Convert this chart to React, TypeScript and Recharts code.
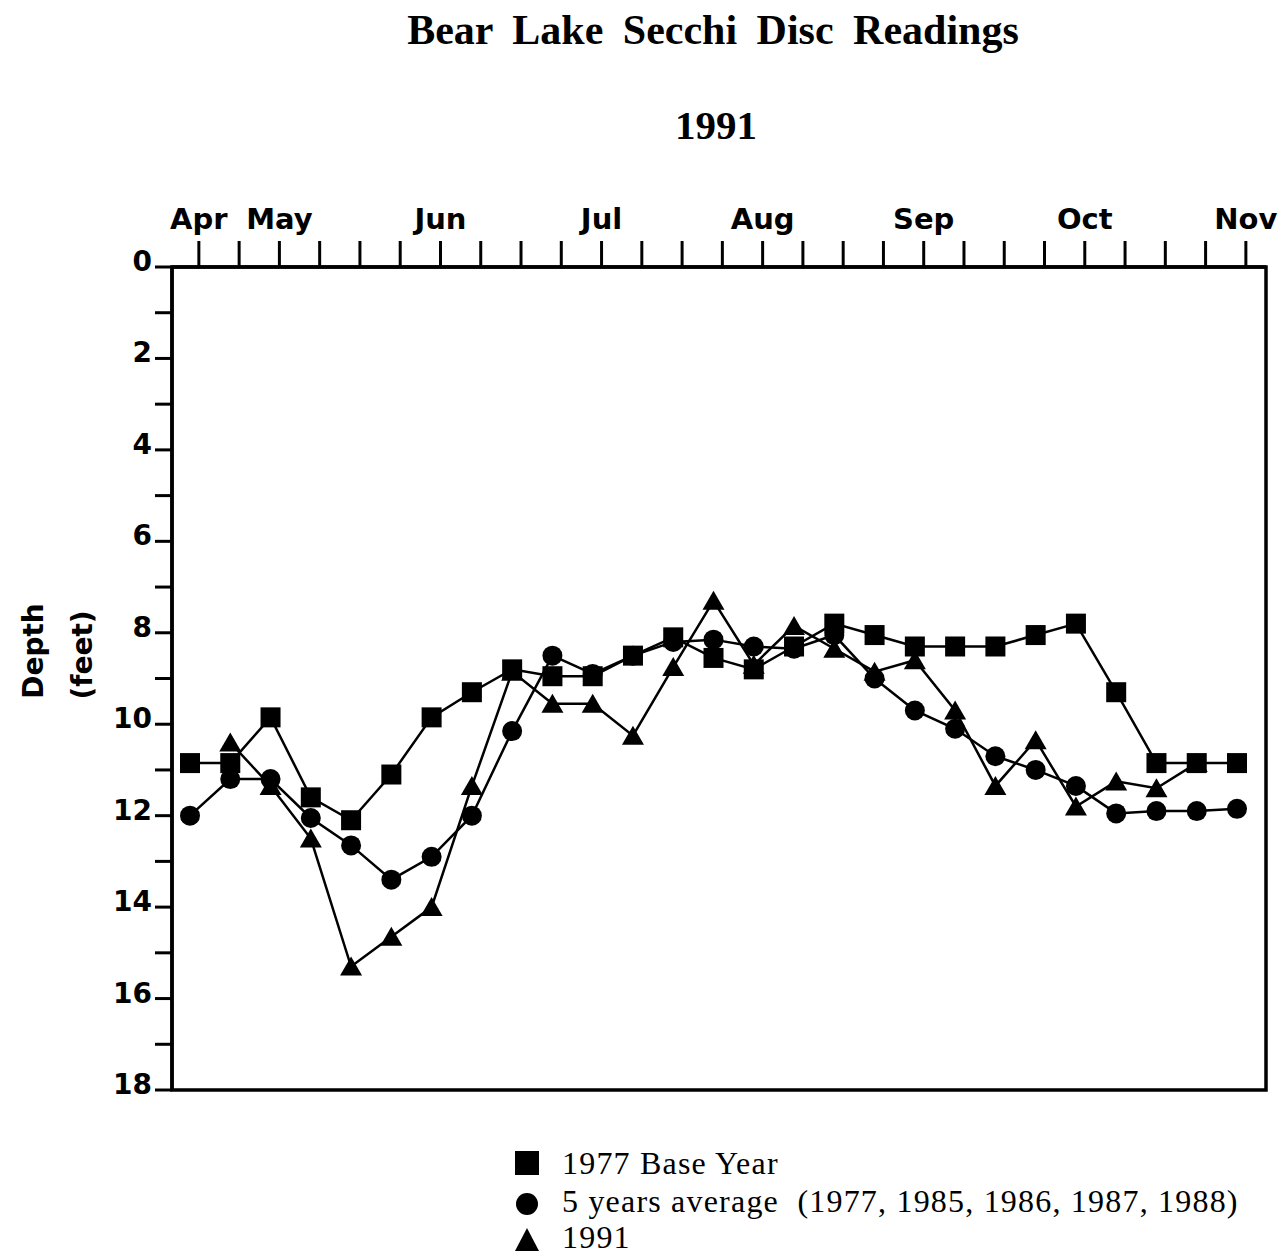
import React from 'react';
import { LineChart, Line, XAxis, YAxis, Legend, ReferenceArea } from 'recharts';

// week index (27 weekly readings, April to November)
const weeks = [0, 1, 2, 3, 4, 5, 6, 7, 8, 9, 10, 11, 12, 13, 14, 15, 16, 17, 18, 19, 20, 21, 22, 23, 24, 25, 26];

// depth in feet
const base1977 = [10.85, 10.85, 9.85, 11.6, 12.1, 11.1, 9.85, 9.3, 8.8, 8.95, 8.95, 8.5, 8.1, 8.55, 8.8, 8.3, 7.8, 8.05, 8.3, 8.3, 8.3, 8.05, 7.8, 9.3, 10.85, 10.85, 10.85];
const avg5 = [12.0, 11.2, 11.2, 12.05, 12.65, 13.4, 12.9, 12.0, 10.15, 8.5, 8.9, 8.5, 8.2, 8.15, 8.3, 8.35, 8.05, 9.0, 9.7, 10.1, 10.7, 11.0, 11.35, 11.95, 11.9, 11.9, 11.85];
const y1991: (number | null)[] = [null, 10.4, 11.35, 12.5, 15.3, 14.65, 14.0, 11.35, 8.85, 9.55, 9.55, 10.25, 8.75, 7.3, 8.7, 7.85, 8.35, 8.85, 8.6, 9.7, 11.35, 10.35, 11.8, 11.25, 11.4, 10.85, null];

const monthLabels = ['Apr', 'May', 'Jun', 'Jul', 'Aug', 'Sep', 'Oct', 'Nov'];
const monthTickWeeks = [0, 2, 6, 10, 14, 18, 22, 26];
const depthTicks = [0, 1, 2, 3, 4, 5, 6, 7, 8, 9, 10, 11, 12, 13, 14, 15, 16, 17, 18];

const legendLabels = ['1977 Base Year', '5 years average  (1977, 1985, 1986, 1987, 1988)', '1991'];

const TICK_SHIFT = 0.22;
const X_DOMAIN: [number, number] = [-0.447, 26.72];
const Y_DOMAIN: [number, number] = [0, 18];
const data = weeks.map((w, i) => ({ x: w, base: base1977[i], avg: avg5[i], y91: y1991[i] }));
const weekTicks = weeks.map((w) => w + TICK_SHIFT);

const SANS = '"DejaVu Sans", Verdana, sans-serif';
const SERIF = '"Liberation Serif", "Times New Roman", serif';

const SquareDot = (p: any) => {
  if (p.cx == null || p.cy == null || p.value == null) return <g key={p.key} />;
  return <rect key={p.key} x={p.cx - 10} y={p.cy - 10} width={20} height={20} fill="#000" />;
};
const CircleDot = (p: any) => {
  if (p.cx == null || p.cy == null || p.value == null) return <g key={p.key} />;
  return <circle key={p.key} cx={p.cx} cy={p.cy} r={10} fill="#000" />;
};
const TriangleDot = (p: any) => {
  if (p.cx == null || p.cy == null || p.value == null) return <g key={p.key} />;
  const { cx, cy } = p;
  return <path key={p.key} d={`M${cx},${cy - 10} L${cx + 11},${cy + 9} L${cx - 11},${cy + 9} Z`} fill="#000" />;
};

const MonthTick = (p: any) => {
  const wk = Math.round(p.payload.value - TICK_SHIFT);
  const k = monthTickWeeks.indexOf(wk);
  if (k < 0) return <g />;
  return (
    <text x={p.x} y={p.y - 12} textAnchor="middle" fontFamily={SANS} fontWeight="bold" fontSize={29} fill="#000">
      {monthLabels[k]}
    </text>
  );
};

const DepthTick = (p: any) => {
  const v = p.payload.value;
  if (v % 2 !== 0) return <g />;
  return (
    <text x={p.x - 3} y={p.y + 4} textAnchor="end" fontFamily={SANS} fontWeight="bold" fontSize={28} fill="#000">
      {v}
    </text>
  );
};

const legendText = { fontFamily: SERIF, fontSize: 32, letterSpacing: 1.2, fill: '#000' } as const;

const LegendBox = () => (
  <svg width={760} height={115} style={{ display: 'block' }}>
    <rect x={15} y={11} width={24} height={24} fill="#000" />
    <circle cx={27} cy={64} r={11} fill="#000" />
    <path d="M27,88 L39,111 L15,111 Z" fill="#000" />
    <text x={62} y={34} {...legendText}>{legendLabels[0]}</text>
    <text x={62} y={72} {...legendText} style={{ whiteSpace: 'pre' }}>{legendLabels[1]}</text>
    <text x={62} y={108} {...legendText}>{legendLabels[2]}</text>
  </svg>
);

export default function App() {
  return (
    <div style={{ position: 'absolute', left: 0, top: 0, width: 1285, height: 1255, background: '#fff' }}>
      <svg width={1285} height={1255} style={{ position: 'absolute', left: 0, top: 0, pointerEvents: 'none' }}>
        <text x={713} y={44} textAnchor="middle" fontFamily={SERIF} fontWeight="bold" fontSize={42} wordSpacing={9} fill="#000">
          Bear Lake Secchi Disc Readings
        </text>
        <text x={716} y={139} textAnchor="middle" fontFamily={SERIF} fontWeight="bold" fontSize={41} fill="#000">
          1991
        </text>
        <text transform="translate(43,651) rotate(-90)" textAnchor="middle" fontFamily={SANS} fontWeight="bold" fontSize={28} fill="#000">
          Depth
        </text>
        <text transform="translate(92,655) rotate(-90)" textAnchor="middle" fontFamily={SANS} fontWeight="bold" fontSize={28} fill="#000">
          (feet)
        </text>
      </svg>
      <div style={{ position: 'absolute', left: 0, top: 0 }}>
        <LineChart width={1285} height={1255} data={data} margin={{ top: 217, right: 19, bottom: 165, left: 112 }}>
          <XAxis
            dataKey="x"
            type="number"
            orientation="top"
            domain={X_DOMAIN}
            ticks={weekTicks}
            interval={0}
            height={50}
            tickSize={26}
            tickMargin={0}
            axisLine={{ stroke: '#000', strokeWidth: 3.5 }}
            tickLine={{ stroke: '#000', strokeWidth: 3 }}
            tick={<MonthTick />}
            allowDataOverflow
          />
          <YAxis
            type="number"
            reversed
            domain={Y_DOMAIN}
            ticks={depthTicks}
            interval={0}
            width={60}
            tickSize={17}
            tickMargin={0}
            axisLine={{ stroke: '#000', strokeWidth: 3.5 }}
            tickLine={{ stroke: '#000', strokeWidth: 3 }}
            tick={<DepthTick />}
            allowDataOverflow
          />
          <ReferenceArea
            x1={X_DOMAIN[0]}
            x2={X_DOMAIN[1]}
            y1={Y_DOMAIN[0]}
            y2={Y_DOMAIN[1]}
            fill="none"
            fillOpacity={0}
            stroke="#000"
            strokeWidth={3.5}
            ifOverflow="visible"
          />
          <Line dataKey="y91" type="linear" stroke="#000" strokeWidth={2.5} dot={TriangleDot} activeDot={false} isAnimationActive={false} />
          <Line dataKey="avg" type="linear" stroke="#000" strokeWidth={2.5} dot={CircleDot} activeDot={false} isAnimationActive={false} />
          <Line dataKey="base" type="linear" stroke="#000" strokeWidth={2.5} dot={SquareDot} activeDot={false} isAnimationActive={false} />
          <Legend
            layout="vertical"
            align="center"
            verticalAlign="middle"
            wrapperStyle={{ position: 'absolute', left: 500, top: 1140, width: 760, height: 115 }}
            content={() => <LegendBox />}
          />
        </LineChart>
      </div>
    </div>
  );
}
